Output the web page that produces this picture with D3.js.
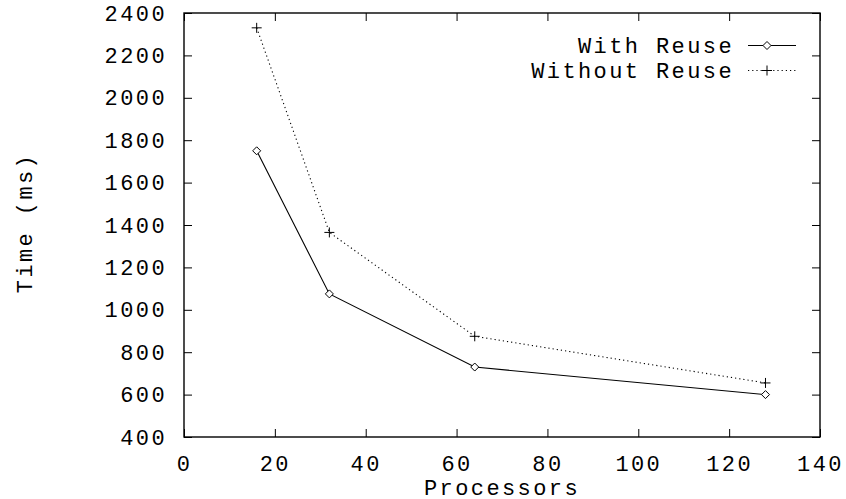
<!DOCTYPE html>
<html>
<head>
<meta charset="utf-8">
<script src="https://cdn.jsdelivr.net/npm/d3@7"></script>
<style>
  body { margin: 0; background: #fff; }
  text { font-family: "Liberation Mono", "DejaVu Sans Mono", monospace; font-size: 22px; letter-spacing: 2.4px; fill: #000; }
</style>
</head>
<body>
<div id="chart"></div>
<script>
// Data
const processors = [16, 32, 64, 128];
const withReuse = [1750, 1075, 730, 600];
const withoutReuse = [2330, 1365, 875, 655];
const xTicks = [0, 20, 40, 60, 80, 100, 120, 140];
const yTicks = [400, 600, 800, 1000, 1200, 1400, 1600, 1800, 2000, 2200, 2400];

const W = 846, H = 499;
const margin = { top: 13, right: 26, bottom: 62, left: 184 };
const width = W - margin.left - margin.right;
const height = H - margin.top - margin.bottom;

const svg = d3.select('#chart')
    .append('svg')
    .attr('width', W)
    .attr('height', H);

const g = svg.append('g')
    .attr('transform', `translate(${margin.left},${margin.top})`);

const x = d3.scaleLinear().domain([0, 140]).range([0, width]);
const y = d3.scaleLinear().domain([400, 2400]).range([height, 0]);

const tick = 8;
const fmt = d3.format('d');

// Inward ticks on all four sides, gnuplot style
g.append('g')
    .attr('transform', `translate(0,${height})`)
    .call(d3.axisBottom(x).tickValues(xTicks).tickSize(-tick).tickPadding(18).tickFormat(fmt))
    .call(a => a.select('.domain').remove());
g.append('g')
    .call(d3.axisTop(x).tickValues(xTicks).tickSize(-tick).tickFormat(''))
    .call(a => a.select('.domain').remove());
g.append('g')
    .call(d3.axisLeft(y).tickValues(yTicks).tickSize(-tick).tickPadding(17).tickFormat(fmt))
    .call(a => a.select('.domain').remove());
g.append('g')
    .attr('transform', `translate(${width},0)`)
    .call(d3.axisRight(y).tickValues(yTicks).tickSize(-tick).tickFormat(''))
    .call(a => a.select('.domain').remove());

g.selectAll('.tick line').attr('stroke', '#000').attr('stroke-width', 1);
g.selectAll('.tick text').attr('fill', '#000');

g.append('rect')
    .attr('width', width)
    .attr('height', height)
    .attr('fill', 'none')
    .attr('stroke', '#000')
    .attr('stroke-width', 1.4);

// Series
const series = [
    { name: 'With Reuse', values: withReuse, dash: null, marker: 'diamond' },
    { name: 'Without Reuse', values: withoutReuse, dash: '1.2,3', marker: 'plus' }
];

const line = d3.line()
    .x(d => x(d[0]))
    .y(d => y(d[1]));

function drawMarker(sel, type, cx, cy) {
    if (type === 'diamond') {
        sel.append('path')
            .attr('d', `M${cx},${cy - 4}L${cx + 4},${cy}L${cx},${cy + 4}L${cx - 4},${cy}Z`)
            .attr('fill', '#fff')
            .attr('stroke', '#000')
            .attr('stroke-width', 1);
    } else {
        sel.append('path')
            .attr('d', `M${cx - 5},${cy}H${cx + 5}M${cx},${cy - 5}V${cy + 5}`)
            .attr('stroke', '#000')
            .attr('stroke-width', 1);
    }
}

series.forEach(s => {
    const pts = processors.map((p, i) => [p, s.values[i]]);
    g.append('path')
        .datum(pts)
        .attr('d', line)
        .attr('fill', 'none')
        .attr('stroke', '#000')
        .attr('stroke-width', 1.1)
        .attr('stroke-dasharray', s.dash);
    pts.forEach(p => drawMarker(g, s.marker, x(p[0]), y(p[1])));
});

// Legend
const legendRight = 734 - margin.left;
series.forEach((s, i) => {
    const ly = 45.5 + i * 25 - margin.top;
    g.append('text')
        .attr('x', legendRight)
        .attr('y', ly)
        .attr('dy', '0.35em')
        .attr('text-anchor', 'end')
        .text(s.name);
    g.append('line')
        .attr('x1', 748 - margin.left)
        .attr('x2', 796 - margin.left)
        .attr('y1', ly)
        .attr('y2', ly)
        .attr('stroke', '#000')
        .attr('stroke-width', 1.1)
        .attr('stroke-dasharray', s.dash);
    drawMarker(g, s.marker, 767 - margin.left, ly);
});

// Axis titles
svg.append('text')
    .attr('x', margin.left + width / 2)
    .attr('y', 495)
    .attr('text-anchor', 'middle')
    .text('Processors');

svg.append('text')
    .attr('transform', `translate(32,${margin.top + height / 2 - 2}) rotate(-90)`)
    .attr('text-anchor', 'middle')
    .text('Time (ms)');
</script>
</body>
</html>
